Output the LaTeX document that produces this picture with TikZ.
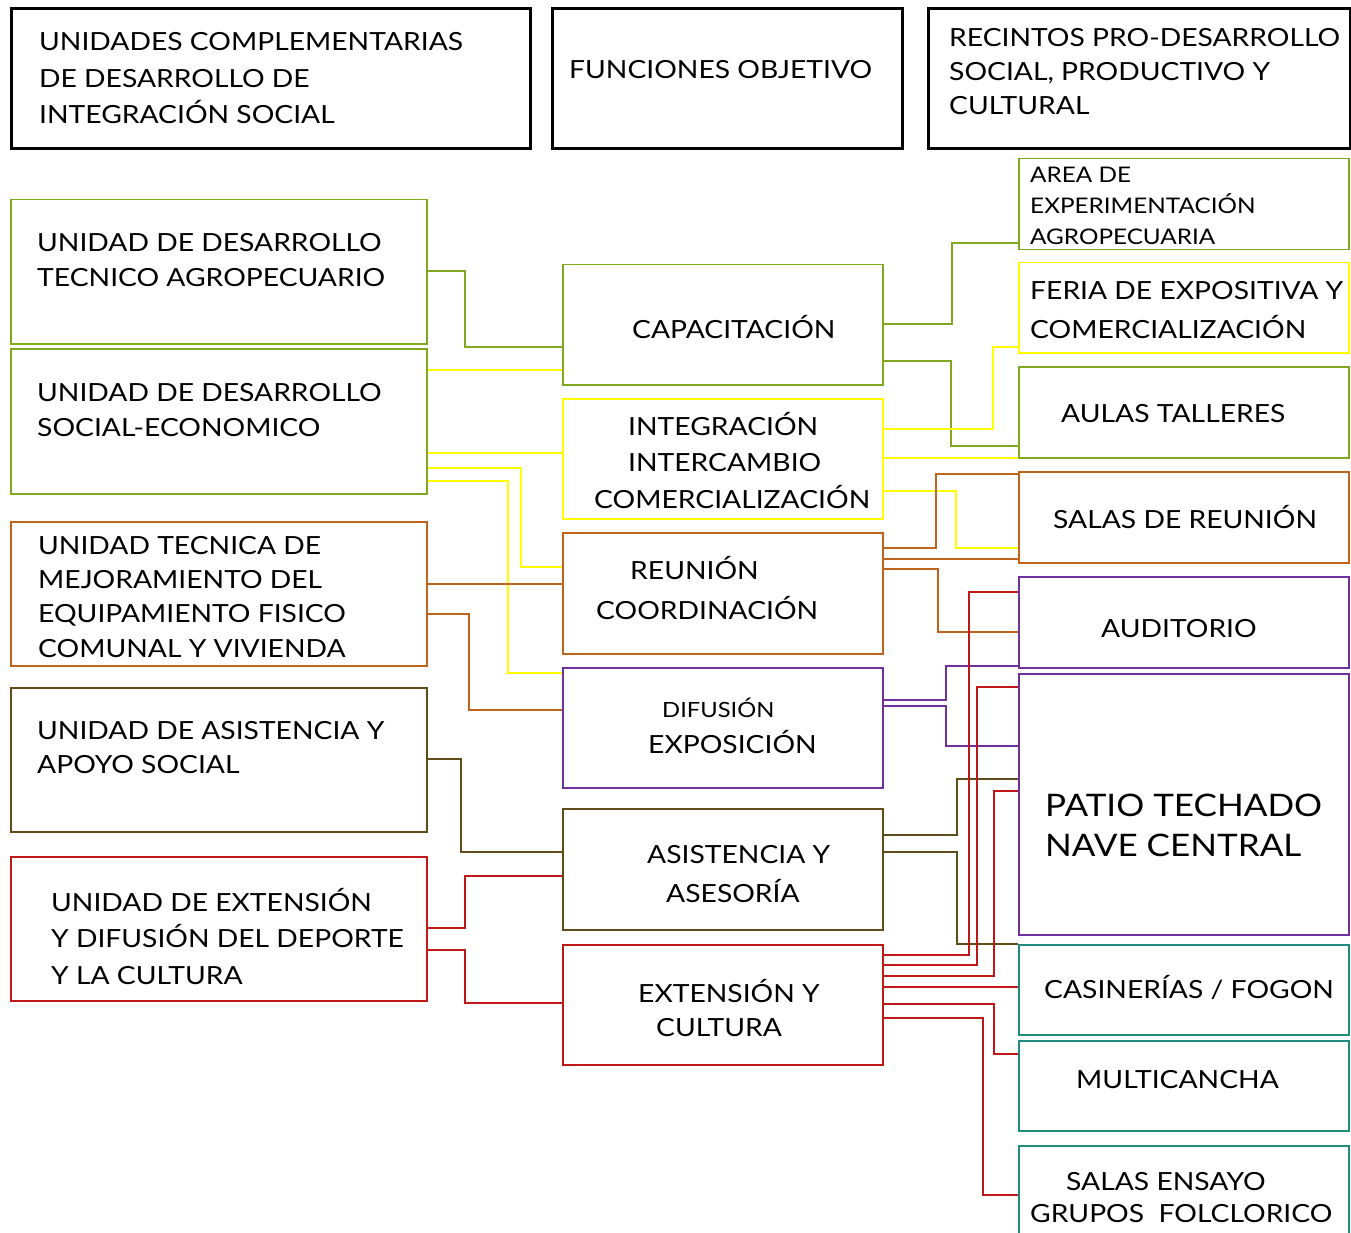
\documentclass[tikz,border=0pt]{standalone}
\usepackage{fontspec}
\setmainfont{Lato}[FakeStretch=1.13]
\usetikzlibrary{positioning,calc}

\definecolor{verde}{RGB}{128,168,32}
\definecolor{amarillo}{RGB}{255,255,0}
\definecolor{naranja}{RGB}{192,100,28}
\definecolor{cafe}{RGB}{96,76,24}
\definecolor{morado}{RGB}{112,48,160}
\definecolor{rojo}{RGB}{192,24,24}
\definecolor{turquesa}{RGB}{32,140,128}

\tikzset{
  titulo/.style={draw=black, line width=3pt, anchor=north west},
  caja/.style={draw=#1, line width=1.5pt, anchor=north west},
  enlace/.style={draw=#1, line width=1.2pt},
  texto/.style={anchor=base west, inner sep=0pt, align=left, font=\fontsize{25}{#1}\selectfont},
  texto/.default=34
}

\begin{document}
\begin{tikzpicture}[x=1pt,y=-1pt]
  \useasboundingbox (0,0) rectangle (1351,1233);

  % cabeceras
  \node[titulo, minimum width=519pt, minimum height=140pt] (h1) at (10,7) {};
  \node[titulo, minimum width=350pt, minimum height=140pt] (h2) at (551,7) {};
  \node[titulo, minimum width=422pt, minimum height=140pt] (h3) at (927,7) {};

  % unidades
  \node[caja=verde,   minimum width=416pt, minimum height=144pt] (l1) at (10,199) {};
  \node[caja=verde,   minimum width=416pt, minimum height=145pt] (l2) at (10,348) {};
  \node[caja=naranja, minimum width=416pt, minimum height=144pt] (l3) at (10,521) {};
  \node[caja=cafe,    minimum width=416pt, minimum height=144pt] (l4) at (10,687) {};
  \node[caja=rojo,    minimum width=416pt, minimum height=144pt] (l5) at (10,856) {};

  % funciones
  \node[caja=verde,    minimum width=320pt, minimum height=120pt] (m1) at (562,264) {};
  \node[caja=amarillo, minimum width=320pt, minimum height=120pt] (m2) at (562,398) {};
  \node[caja=naranja,  minimum width=320pt, minimum height=121pt] (m3) at (562,532) {};
  \node[caja=morado,   minimum width=320pt, minimum height=120pt] (m4) at (562,667) {};
  \node[caja=cafe,     minimum width=320pt, minimum height=121pt] (m5) at (562,808) {};
  \node[caja=rojo,     minimum width=320pt, minimum height=120pt] (m6) at (562,944) {};

  % recintos
  \node[caja=verde,    minimum width=330pt, minimum height=91pt]  (r1) at (1018,158) {};
  \node[caja=amarillo, minimum width=330pt, minimum height=90pt]  (r2) at (1018,262) {};
  \node[caja=verde,    minimum width=330pt, minimum height=91pt]  (r3) at (1018,366) {};
  \node[caja=naranja,  minimum width=330pt, minimum height=91pt]  (r4) at (1018,471) {};
  \node[caja=morado,   minimum width=330pt, minimum height=91pt]  (r5) at (1018,576) {};
  \node[caja=morado,   minimum width=330pt, minimum height=261pt] (r6) at (1018,673) {};
  \node[caja=turquesa, minimum width=330pt, minimum height=90pt]  (r7) at (1018,944) {};
  \node[caja=turquesa, minimum width=330pt, minimum height=90pt]  (r8) at (1018,1040) {};
  \node[caja=turquesa, minimum width=330pt, minimum height=100pt] (r9) at (1018,1145) {};

  % textos (base = ultima linea)
  \node[texto=36.5] (h1t) at (39,124) {UNIDADES COMPLEMENTARIAS\\DE DESARROLLO DE\\INTEGRACIÓN SOCIAL};
  \node[texto] (h2t) at (569,79) {FUNCIONES OBJETIVO};
  \node[texto] (h3t) at (949,115) {RECINTOS PRO-DESARROLLO\\SOCIAL, PRODUCTIVO Y\\CULTURAL};

  \node[texto] (l1t) at (37,286) {UNIDAD DE DESARROLLO\\TECNICO AGROPECUARIO};
  \node[texto=35] (l2t) at (37,436) {UNIDAD DE DESARROLLO\\SOCIAL-ECONOMICO};
  \node[texto=34.3] (l3t) at (38,657) {UNIDAD TECNICA DE\\MEJORAMIENTO DEL\\EQUIPAMIENTO FISICO\\COMUNAL Y VIVIENDA};
  \node[texto] (l4t) at (37,773) {UNIDAD DE ASISTENCIA Y\\APOYO SOCIAL};
  \node[texto=36.5] (l5t) at (51,984) {UNIDAD DE EXTENSIÓN\\Y DIFUSIÓN DEL DEPORTE\\Y LA CULTURA};

  \node[texto] (m1t) at (632,338) {CAPACITACIÓN};
  \node[texto=36.5] (m2t) at (594,508) {\hspace*{34pt}INTEGRACIÓN\\\hspace*{34pt}INTERCAMBIO\\COMERCIALIZACIÓN};
  \node[texto=40] (m3t) at (596,619) {\hspace*{34pt}REUNIÓN\\COORDINACIÓN};
  \node[texto=36] (m4t) at (648,753) {\hspace*{14pt}{\fontsize{21}{36}\selectfont DIFUSIÓN}\\EXPOSICIÓN};
  \node[texto=39] (m5t) at (647,902) {ASISTENCIA Y\\\hspace*{19pt}ASESORÍA};
  \node[texto] (m6t) at (638,1036) {EXTENSIÓN Y\\\hspace*{18pt}CULTURA};

  \node[texto, font=\fontsize{21.5}{31}\selectfont] (r1t) at (1030,244) {AREA DE\\EXPERIMENTACIÓN\\AGROPECUARIA};
  \node[texto=39] (r2t) at (1030,338) {FERIA DE EXPOSITIVA Y\\COMERCIALIZACIÓN};
  \node[texto] (r3t) at (1061,422) {AULAS TALLERES};
  \node[texto] (r4t) at (1053,528) {SALAS DE REUNIÓN};
  \node[texto] (r5t) at (1101,637) {AUDITORIO};
  \node[texto, font=\fontsize{31}{40}\selectfont] (r6t) at (1045,856) {PATIO TECHADO\\NAVE CENTRAL};
  \node[texto] (r7t) at (1044,998) {CASINERÍAS / FOGON};
  \node[texto] (r8t) at (1076,1088) {MULTICANCHA};
  \node[texto=31.5] (r9t) at (1030,1222) {\hspace*{36pt}SALAS ENSAYO\\GRUPOS\ \ FOLCLORICO};

  % enlaces unidades -> funciones
  \draw[enlace=verde] (l1.east |- 0,271) -| (465,347) -- (m1.west |- 0,347);
  \draw[enlace=amarillo] (l2.east |- 0,370) -- (m1.west |- 0,370);
  \draw[enlace=amarillo] (l2.east |- 0,453) -- (m2.west |- 0,453);
  \draw[enlace=amarillo] (l2.east |- 0,468) -| (521,567) -- (m3.west |- 0,567);
  \draw[enlace=amarillo] (l2.east |- 0,481) -| (508,673) -- (m4.west |- 0,673);
  \draw[enlace=naranja] (l3.east |- 0,584) -- (m3.west |- 0,584);
  \draw[enlace=naranja] (l3.east |- 0,614) -| (469,710) -- (m4.west |- 0,710);
  \draw[enlace=cafe] (l4.east |- 0,759) -| (461,852) -- (m5.west |- 0,852);
  \draw[enlace=rojo] (l5.east |- 0,928) -| (465,876) -- (m5.west |- 0,876);
  \draw[enlace=rojo] (l5.east |- 0,950) -| (465,1003) -- (m6.west |- 0,1003);

  % enlaces funciones -> recintos
  \draw[enlace=verde] (m1.east |- 0,324) -| (952,243) -- (r1.west |- 0,243);
  \draw[enlace=verde] (m1.east |- 0,361) -| (951,446) -- (r3.west |- 0,446);
  \draw[enlace=amarillo] (m2.east |- 0,429) -| (993,347) -- (r2.west |- 0,347);
  \draw[enlace=amarillo] (m2.east |- 0,458) -- (r3.west |- 0,458);
  \draw[enlace=amarillo] (m2.east |- 0,491) -| (956,548) -- (r4.west |- 0,548);
  \draw[enlace=naranja] (m3.east |- 0,548) -| (936,474) -- (r4.west |- 0,474);
  \draw[enlace=naranja] (m3.east |- 0,559) -- (r4.west |- 0,559);
  \draw[enlace=naranja] (m3.east |- 0,569) -| (938,632) -- (r5.west |- 0,632);
  \draw[enlace=morado] (m4.east |- 0,700) -| (946,666) -- (r5.west |- 0,666);
  \draw[enlace=morado] (m4.east |- 0,706) -| (946,746) -- (r6.west |- 0,746);
  \draw[enlace=cafe] (m5.east |- 0,835) -| (957,779) -- (r6.west |- 0,779);
  \draw[enlace=cafe] (m5.east |- 0,852) -| (957,944) -- (r7.west |- 0,944);
  \foreach \ya/\xm/\yb/\dst in {955/969/592/r5, 965/977/687/r6, 976/994/791/r6,
                                1004/994/1054/r8, 1018/983/1195/r9}
    \draw[enlace=rojo] (m6.east |- 0,\ya) -| (\xm,\yb) -- (\dst.west |- 0,\yb);
  \draw[enlace=rojo] (m6.east |- 0,987) -- (r7.west |- 0,987);

\end{tikzpicture}
\end{document}
